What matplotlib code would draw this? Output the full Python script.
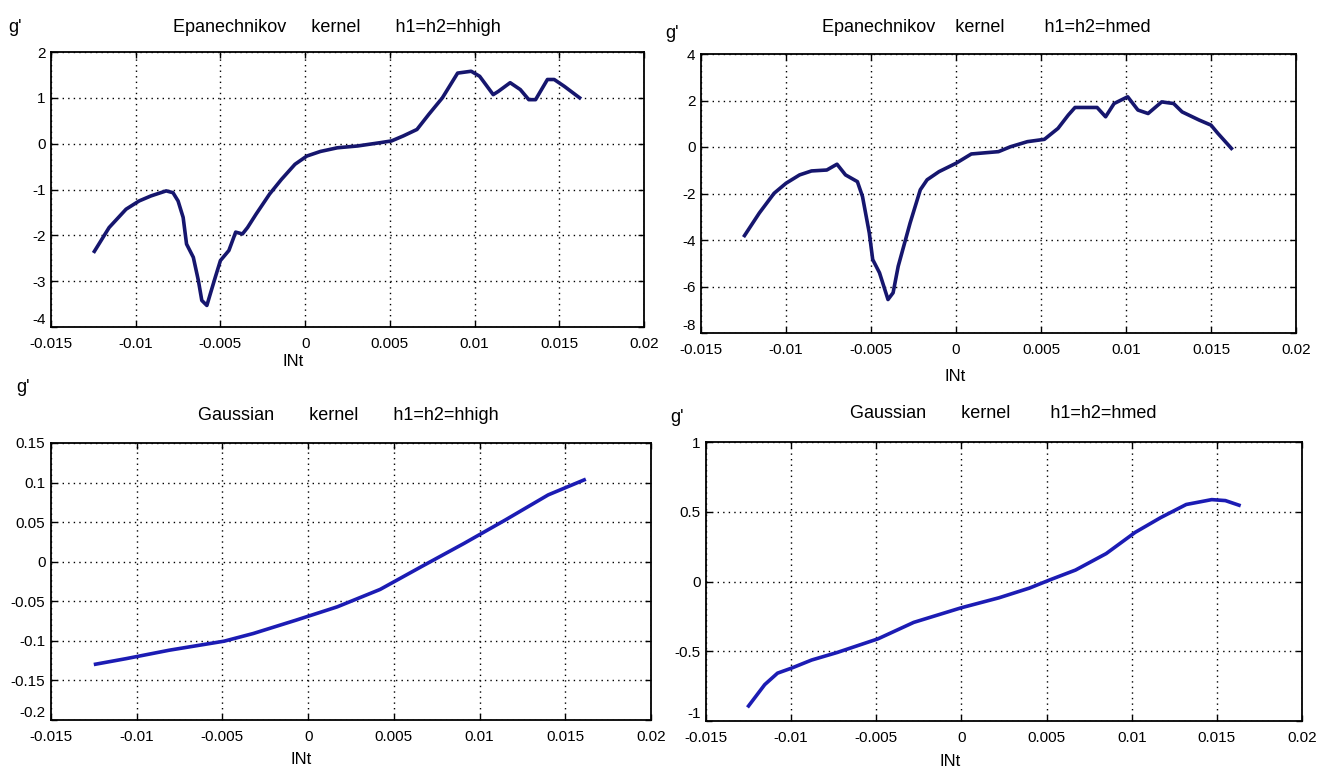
import matplotlib.pyplot as plt
from matplotlib import font_manager

# font: narrow sans like the MATLAB export
names = {f.name for f in font_manager.fontManager.ttflist}
FONT = 'Liberation Sans Narrow' if 'Liberation Sans Narrow' in names else 'Liberation Sans'
plt.rcParams['font.family'] = [FONT, 'DejaVu Sans']

# x ticks shared by all panels
x_ticks = [-0.015, -0.01, -0.005, 0, 0.005, 0.01, 0.015, 0.02]
x_labels = ['-0.015', '-0.01', '-0.005', '0', '0.005', '0.01', '0.015', '0.02']

# Epanechnikov kernel, h1=h2=hhigh
epa_high_x = [-0.01244, -0.01157, -0.01057, -0.0098, -0.0091, -0.0082, -0.0078, -0.0075,
              -0.0072, -0.0070, -0.0066, -0.0063, -0.0061, -0.0058, -0.0056, -0.0053,
              -0.0050, -0.0045, -0.0041, -0.0037, -0.0034, -0.0029, -0.0021, -0.0014,
              -0.0006, 0.0001, 0.0009, 0.0019, 0.0031, 0.0044, 0.0051, 0.0058, 0.0066,
              0.0073, 0.0081, 0.0090, 0.0098, 0.0103, 0.0111, 0.0114, 0.0121, 0.0127,
              0.0132, 0.0136, 0.0143, 0.0147, 0.0153, 0.0162]
epa_high_y = [-2.35, -1.83, -1.43, -1.25, -1.14, -1.03, -1.07, -1.25,
              -1.61, -2.19, -2.48, -2.99, -3.42, -3.53, -3.28, -2.91,
              -2.55, -2.33, -1.93, -1.97, -1.83, -1.54, -1.10, -0.78,
              -0.45, -0.27, -0.17, -0.09, -0.05, 0.02, 0.06, 0.17, 0.31,
              0.64, 1.00, 1.54, 1.58, 1.47, 1.07, 1.14, 1.33, 1.18,
              0.96, 0.96, 1.40, 1.40, 1.25, 1.00]

# Epanechnikov kernel, h1=h2=hmed
epa_med_x = [-0.01244, -0.01157, -0.0107, -0.0100, -0.0092, -0.0085, -0.0076, -0.0070,
             -0.0065, -0.0058, -0.0055, -0.0051, -0.0049, -0.0045, -0.0040, -0.0037,
             -0.0034, -0.0027, -0.0021, -0.0017, -0.0010, 0.0000, 0.0009, 0.0025,
             0.0032, 0.0042, 0.0052, 0.0060, 0.0066, 0.0070, 0.0077, 0.0083, 0.0088,
             0.0093, 0.0101, 0.0107, 0.0113, 0.0121, 0.0128, 0.0133, 0.0143, 0.0150,
             0.0154, 0.0162]
epa_med_y = [-3.81, -2.84, -1.99, -1.56, -1.20, -1.03, -0.99, -0.74,
             -1.20, -1.49, -2.13, -3.70, -4.84, -5.41, -6.56, -6.27,
             -5.13, -3.27, -1.84, -1.41, -1.06, -0.70, -0.30, -0.20,
             0.01, 0.23, 0.33, 0.80, 1.37, 1.70, 1.70, 1.70, 1.30,
             1.87, 2.16, 1.59, 1.44, 1.94, 1.87, 1.51, 1.16, 0.94,
             0.59, -0.06]

# Gaussian kernel, h1=h2=hhigh
gau_high_x = [-0.0124, -0.0106, -0.0081, -0.0049, -0.0032, -0.0007, 0.0017, 0.0042,
              0.0066, 0.0091, 0.0115, 0.0140, 0.0161]
gau_high_y = [-0.1295, -0.1224, -0.1118, -0.1004, -0.0907, -0.0738, -0.0570, -0.0350,
              -0.0063, 0.0232, 0.0527, 0.0844, 0.1034]

# Gaussian kernel, h1=h2=hmed
gau_med_x = [-0.0125, -0.01155, -0.0108, -0.0100, -0.0088, -0.0073, -0.0049, -0.0028,
             0.0, 0.0022, 0.0040, 0.0052, 0.0067, 0.0085, 0.0102, 0.0117, 0.0132,
             0.0147, 0.0155, 0.0163]
gau_med_y = [-0.892, -0.739, -0.657, -0.622, -0.563, -0.509, -0.411, -0.293,
             -0.188, -0.117, -0.047, 0.012, 0.082, 0.200, 0.352, 0.458, 0.552,
             0.587, 0.580, 0.547]

W, H = 1317, 776
fig = plt.figure(figsize=(W / 100, H / 100), dpi=100)


def px_axes(x0, y0, x1, y1):
    return fig.add_axes([x0 / W, 1 - y1 / H, (x1 - x0) / W, (y1 - y0) / H])


def style(ax, yticks, ylabels):
    ax.set_xlim(-0.015, 0.02)
    ax.set_ylim(yticks[0], yticks[-1])
    ax.set_xticks(x_ticks)
    ax.set_xticklabels(x_labels)
    ax.set_yticks(yticks)
    ax.set_yticklabels(ylabels)
    ax.tick_params(direction='in', length=4, width=1, labelsize=11, pad=4,
                   top=True, right=True)
    ax.tick_params(axis='x', pad=7)
    # lowest y label sits a little higher, as in the MATLAB export
    ax.get_yticklabels()[0].set_verticalalignment('bottom')
    ax.grid(True, color='black', linestyle=(0, (1, 3)), linewidth=1)
    for s in ax.spines.values():
        s.set_linewidth(1.3)


panels = [
    ((51, 52, 644, 327), epa_high_x, epa_high_y, '#16166e',
     [-4, -3, -2, -1, 0, 1, 2], ['-4', '-3', '-2', '-1', '0', '1', '2'],
     'Epanechnikov     kernel       h1=h2=hhigh', (337, 27), (15, 27), (293, 362)),
    ((701, 54, 1296, 333), epa_med_x, epa_med_y, '#16166e',
     [-8, -6, -4, -2, 0, 2, 4], ['-8', '-6', '-4', '-2', '0', '2', '4'],
     'Epanechnikov    kernel        h1=h2=hmed', (986, 28), (672, 33), (955, 376)),
    ((51, 443, 651, 720), gau_high_x, gau_high_y, '#1c1cb4',
     [-0.2, -0.15, -0.1, -0.05, 0, 0.05, 0.1, 0.15],
     ['-0.2', '-0.15', '-0.1', '-0.05', '0', '0.05', '0.1', '0.15'],
     'Gaussian       kernel       h1=h2=hhigh', (348, 415), (23, 388), (301, 760)),
    ((706, 442, 1302, 721), gau_med_x, gau_med_y, '#1c1cb4',
     [-1, -0.5, 0, 0.5, 1], ['-1', '-0.5', '0', '0.5', '1'],
     'Gaussian       kernel        h1=h2=hmed', (1003, 413), (677, 417), (950, 762)),
]

for box, xs, ys, color, yt, yl, title, tpos, gpos, ipos in panels:
    ax = px_axes(*box)
    ax.plot(xs, ys, color=color, linewidth=2.6)
    style(ax, yt, yl)
    fig.text(tpos[0] / W, 1 - tpos[1] / H, title, ha='center', va='center', fontsize=13)
    fig.text(gpos[0] / W, 1 - gpos[1] / H, "g'", ha='center', va='center', fontsize=13)
    fig.text(ipos[0] / W, 1 - ipos[1] / H, 'INt', ha='center', va='center', fontsize=12)

fig.savefig('out.png', dpi=100)
